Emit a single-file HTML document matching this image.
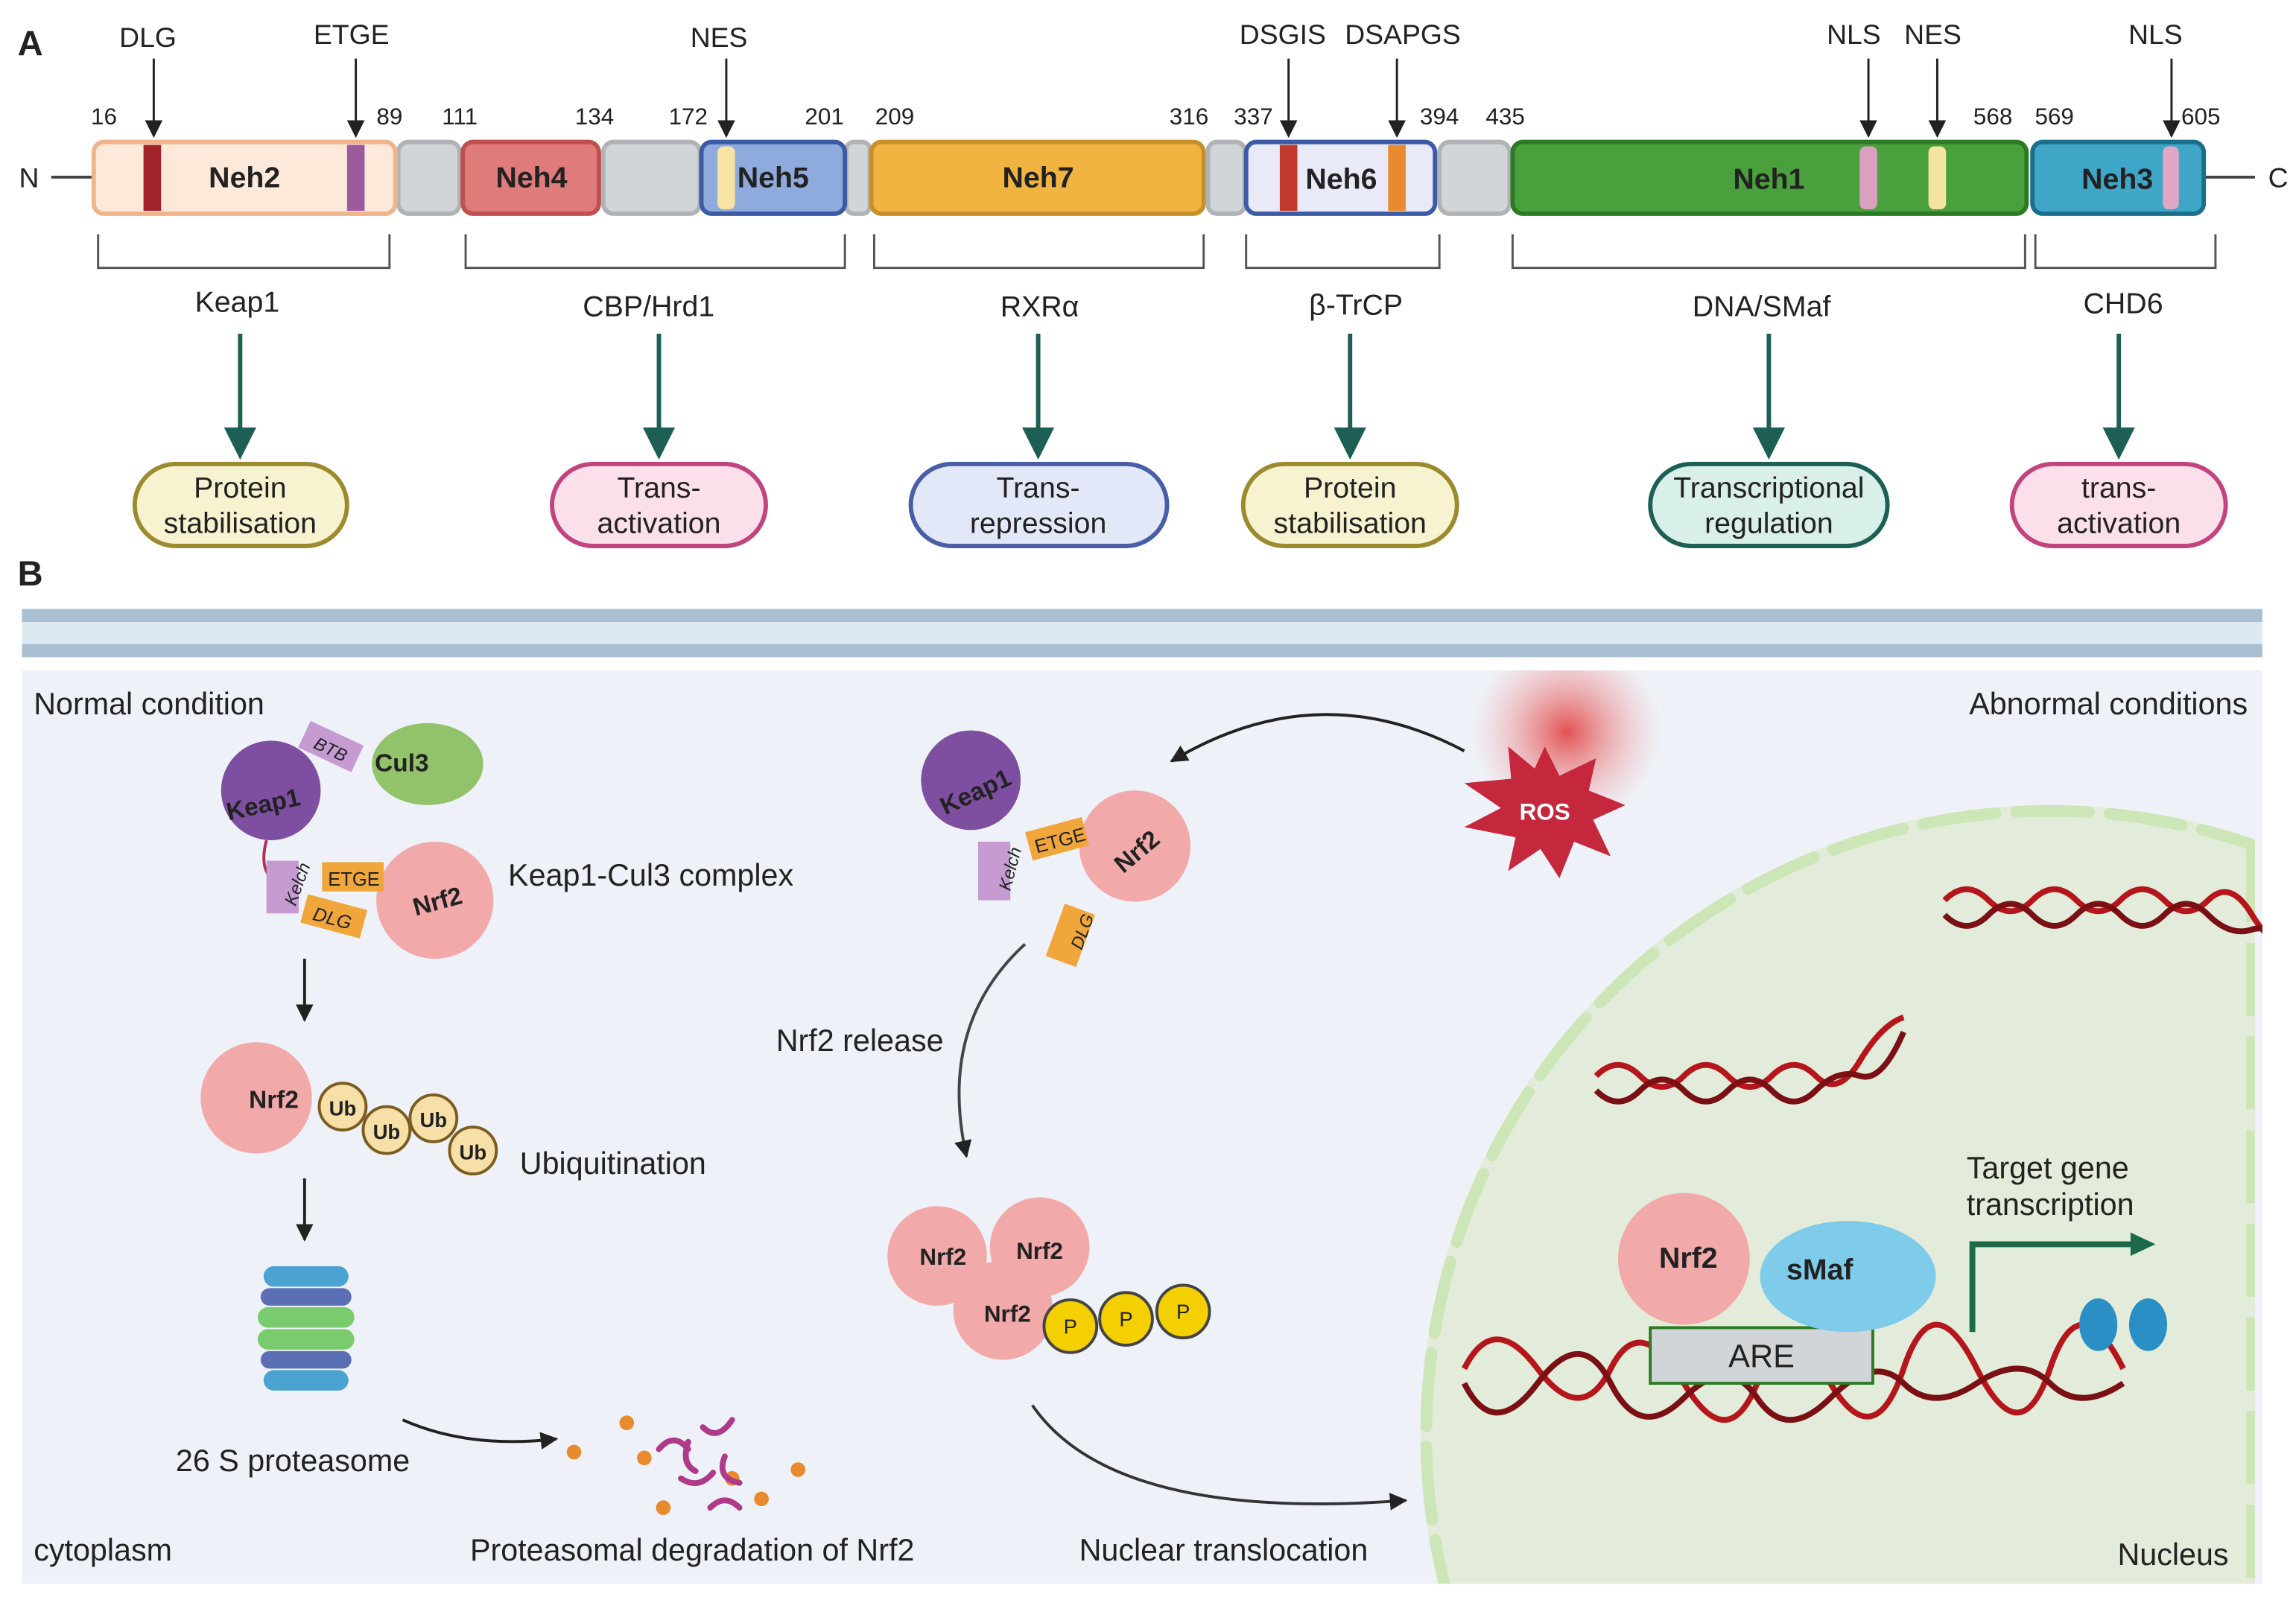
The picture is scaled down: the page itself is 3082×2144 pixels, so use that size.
<!DOCTYPE html>
<html><head><meta charset="utf-8"><style>
html,body{margin:0;padding:0;background:#fff;overflow:hidden;width:3082px;height:2144px}
svg{display:block}
text{font-family:"Liberation Sans",sans-serif;fill:#222}
</style></head><body>
<svg width="3082" height="2144" viewBox="0 0 1568 1091" preserveAspectRatio="none" xmlns="http://www.w3.org/2000/svg">
<defs>
<marker id="ka" viewBox="0 0 10 10" refX="9" refY="5" markerWidth="12" markerHeight="12" markerUnits="userSpaceOnUse" orient="auto"><path d="M0,0 L10,5 L0,10 z" fill="#222"/></marker>
<clipPath id="pc"><rect x="15" y="458" width="1530" height="624"/></clipPath>
<clipPath id="nc"><rect x="15" y="458" width="1525" height="624"/></clipPath>
<radialGradient id="rg"><stop offset="0" stop-color="#e04040" stop-opacity=".9"/><stop offset="1" stop-color="#f4a0a0" stop-opacity="0"/></radialGradient>
</defs>
<!-- Panel A -->
<text x="12" y="38" font-size="24" font-weight="bold">A</text>
<line x1="35" y1="121" x2="63" y2="121" stroke="#444" stroke-width="2"/>
<line x1="1506" y1="121" x2="1540" y2="121" stroke="#444" stroke-width="2"/>
<text x="13" y="128" font-size="19">N</text>
<text x="1549" y="128" font-size="19">C</text>
<g stroke-width="3">
<rect x="272" y="97" width="42" height="49" rx="7" fill="#d2d5d8" stroke="#b0b3b6"/>
<rect x="412" y="97" width="66" height="49" rx="7" fill="#d2d5d8" stroke="#b0b3b6"/>
<rect x="578" y="97" width="16" height="49" rx="5" fill="#d2d5d8" stroke="#b0b3b6"/>
<rect x="825" y="97" width="25" height="49" rx="6" fill="#d2d5d8" stroke="#b0b3b6"/>
<rect x="983" y="97" width="48" height="49" rx="7" fill="#d2d5d8" stroke="#b0b3b6"/>
<rect x="64" y="97" width="206" height="49" rx="7" fill="#fde9d9" stroke="#f0b48a"/>
<rect x="316" y="97" width="93" height="49" rx="7" fill="#e07b7b" stroke="#c0504d"/>
<rect x="479" y="97" width="98" height="49" rx="7" fill="#8faadc" stroke="#3b5ba5"/>
<rect x="595" y="97" width="227" height="49" rx="7" fill="#f2b441" stroke="#c8902a"/>
<rect x="851" y="97" width="129" height="49" rx="7" fill="#e8eaf8" stroke="#3b5ba5"/>
<rect x="1033" y="97" width="351" height="49" rx="7" fill="#4aa03c" stroke="#2d7a24"/>
<rect x="1388" y="97" width="117" height="49" rx="7" fill="#3fa6c8" stroke="#1a6f8a"/>
</g>
<rect x="98" y="99" width="12" height="45" fill="#a0242a"/>
<rect x="237" y="99" width="12" height="45" fill="#9b5a9e"/>
<rect x="490" y="100" width="12" height="43" rx="4" fill="#f7e3a3"/>
<rect x="874" y="99" width="12" height="45" fill="#c0392b"/>
<rect x="948" y="99" width="12" height="45" fill="#ea8a2e"/>
<rect x="1270" y="100" width="12" height="43" rx="4" fill="#d9a0c0"/>
<rect x="1317" y="100" width="12" height="43" rx="4" fill="#f5e3a3"/>
<rect x="1477" y="100" width="11" height="43" rx="4" fill="#e0a6c6"/>
<g font-size="20" font-weight="bold" text-anchor="middle">
<text x="167" y="128">Neh2</text><text x="363" y="128">Neh4</text><text x="528" y="128">Neh5</text>
<text x="709" y="128">Neh7</text><text x="916" y="129">Neh6</text><text x="1208" y="129">Neh1</text><text x="1446" y="129">Neh3</text>
</g>
<g font-size="16" text-anchor="middle">
<text x="71" y="85">16</text><text x="266" y="85">89</text><text x="314" y="85">111</text><text x="406" y="85">134</text>
<text x="470" y="85">172</text><text x="563" y="85">201</text><text x="611" y="85">209</text><text x="812" y="85">316</text>
<text x="856" y="85">337</text><text x="983" y="85">394</text><text x="1028" y="85">435</text><text x="1361" y="85">568</text>
<text x="1403" y="85">569</text><text x="1503" y="85">605</text>
</g>
<g font-size="19" text-anchor="middle">
<text x="101" y="32">DLG</text><text x="240" y="30">ETGE</text><text x="491" y="32">NES</text>
<text x="876" y="30">DSGIS</text><text x="958" y="30">DSAPGS</text><text x="1266" y="30">NLS</text>
<text x="1320" y="30">NES</text><text x="1472" y="30">NLS</text>
</g>
<g stroke="#222" stroke-width="1.5" marker-end="url(#ka)">
<line x1="105" y1="40" x2="105" y2="93"/><line x1="243" y1="40" x2="243" y2="93"/>
<line x1="496" y1="40" x2="496" y2="93"/><line x1="880" y1="40" x2="880" y2="93"/>
<line x1="954" y1="40" x2="954" y2="93"/><line x1="1276" y1="40" x2="1276" y2="93"/>
<line x1="1323" y1="40" x2="1323" y2="93"/><line x1="1483" y1="40" x2="1483" y2="93"/>
</g>
<g fill="none" stroke="#555" stroke-width="1.5">
<path d="M67,160 V183 H266 V160"/><path d="M318,160 V183 H577 V160"/><path d="M597,160 V183 H822 V160"/>
<path d="M851,160 V183 H983 V160"/><path d="M1033,160 V183 H1383 V160"/><path d="M1390,160 V183 H1513 V160"/>
</g>
<g font-size="20" text-anchor="middle">
<text x="162" y="213">Keap1</text><text x="443" y="216">CBP/Hrd1</text><text x="710" y="216">RXRα</text>
<text x="926" y="215">β-TrCP</text><text x="1203" y="216">DNA/SMaf</text><text x="1450" y="214">CHD6</text>
</g>
<g stroke="#1d5e55" stroke-width="3">
<line x1="164" y1="228" x2="164" y2="295"/><line x1="450" y1="228" x2="450" y2="295"/>
<line x1="709" y1="228" x2="709" y2="295"/><line x1="922" y1="228" x2="922" y2="295"/>
<line x1="1208" y1="228" x2="1208" y2="295"/><line x1="1447" y1="228" x2="1447" y2="295"/>
</g>
<g fill="#1d5e55">
<path d="M153,292 h22 l-11,22 z"/><path d="M439,292 h22 l-11,22 z"/><path d="M698,292 h22 l-11,22 z"/>
<path d="M911,292 h22 l-11,22 z"/><path d="M1197,292 h22 l-11,22 z"/><path d="M1436,292 h22 l-11,22 z"/>
</g>
<g stroke-width="3">
<rect x="92" y="317" width="145" height="56" rx="28" fill="#f7f3d0" stroke="#9c8a2e"/>
<rect x="377" y="317" width="146" height="56" rx="28" fill="#fbe0ec" stroke="#c2447f"/>
<rect x="622" y="317" width="175" height="56" rx="28" fill="#e3e8f8" stroke="#4a5ea8"/>
<rect x="849" y="317" width="146" height="56" rx="28" fill="#f7f3d0" stroke="#9c8a2e"/>
<rect x="1127" y="317" width="162" height="56" rx="28" fill="#d8efea" stroke="#1d5e55"/>
<rect x="1374" y="317" width="146" height="56" rx="28" fill="#fbe0ec" stroke="#c2447f"/>
</g>
<g font-size="20" text-anchor="middle">
<text x="164" y="340">Protein</text><text x="164" y="364">stabilisation</text>
<text x="450" y="340">Trans-</text><text x="450" y="364">activation</text>
<text x="709" y="340">Trans-</text><text x="709" y="364">repression</text>
<text x="922" y="340">Protein</text><text x="922" y="364">stabilisation</text>
<text x="1208" y="340">Transcriptional</text><text x="1208" y="364">regulation</text>
<text x="1447" y="340">trans-</text><text x="1447" y="364">activation</text>
</g>
<!-- Panel B -->
<text x="12" y="400" font-size="24" font-weight="bold">B</text>
<rect x="15" y="416" width="1530" height="9" fill="#a9c0d3"/>
<rect x="15" y="425" width="1530" height="15" fill="#dde9f1"/>
<rect x="15" y="440" width="1530" height="9" fill="#a9c0d3"/>
<rect x="15" y="458" width="1530" height="624" fill="#eef2f8"/>
<g clip-path="url(#nc)">
<circle cx="1400" cy="980" r="430" fill="#e3ecda"/>
<circle cx="1400" cy="980" r="426" fill="none" stroke="#cde6b8" stroke-width="8" stroke-dasharray="50 14" stroke-linecap="round"/>
</g>
<line x1="1537" y1="580" x2="1537" y2="1080" stroke="#cde6b8" stroke-width="6" stroke-dasharray="50 14"/>
<g clip-path="url(#pc)">
<circle cx="1070" cy="500" r="65" fill="url(#rg)"/>
<g fill="none" stroke-width="4">
<path d="M1328,615 q15,-15 30,0 t30,0 t30,0 t30,0 t30,0 t30,0 t30,10 t30,20" stroke="#b5161c"/>
<path d="M1328,625 q15,15 30,0 t30,0 t30,0 t30,0 t30,0 t30,0 t30,10 t30,20" stroke="#7a0f14"/>
</g>
</g>
<g font-size="21">
<text x="23" y="488">Normal condition</text>
<text x="1535" y="488" text-anchor="end">Abnormal conditions</text>
<text x="347" y="605">Keap1-Cul3 complex</text>
<text x="355" y="802">Ubiquitination</text>
<text x="120" y="1005">26 S proteasome</text>
<text x="23" y="1066">cytoplasm</text>
<text x="321" y="1066">Proteasomal degradation of Nrf2</text>
<text x="530" y="718">Nrf2 release</text>
<text x="737" y="1066">Nuclear translocation</text>
<text x="1522" y="1069" text-anchor="end">Nucleus</text>
<text x="1343" y="805">Target gene</text><text x="1343" y="830">transcription</text>
</g>
<!-- Keap1-Cul3 complex -->
<circle cx="185" cy="540" r="34" fill="#7e4fa0"/><text x="154" y="555" font-size="17" font-weight="bold" transform="rotate(-12 181 548)">Keap1</text>
<rect x="206" y="500" width="40" height="20" fill="#c59bd2" transform="rotate(25 226 510)"/><text x="215" y="516" font-size="12" font-style="italic" transform="rotate(25 226 510)">BTB</text>
<ellipse cx="292" cy="522" rx="38" ry="28" fill="#92c26a"/><text x="256" y="527" font-size="17" font-weight="bold">Cul3</text>
<path d="M182,574 Q175,600 195,605" fill="none" stroke="#b0305a" stroke-width="2"/>
<rect x="182" y="588" width="22" height="36" fill="#c59bd2"/><text x="198" y="622" font-size="12" font-style="italic" transform="rotate(-70 198 618)">Kelch</text>
<circle cx="297" cy="615" r="40" fill="#f2a9a9"/><text x="282" y="622" font-size="17" font-weight="bold" transform="rotate(-15 297 617)">Nrf2</text>
<rect x="220" y="589" width="42" height="20" fill="#f0a63a"/><text x="224" y="605" font-size="13">ETGE</text>
<rect x="207" y="616" width="42" height="20" fill="#f0a63a" transform="rotate(15 228 626)"/><text x="214" y="632" font-size="13" font-style="italic" transform="rotate(15 228 626)">DLG</text>
<line x1="208" y1="655" x2="208" y2="697" stroke="#222" stroke-width="2" marker-end="url(#ka)"/>
<circle cx="175" cy="750" r="38" fill="#f2a9a9"/><text x="170" y="757" font-size="17" font-weight="bold">Nrf2</text>
<g fill="#f7dfa8" stroke="#7a5c20" stroke-width="2">
<circle cx="234" cy="756" r="16"/><circle cx="264" cy="772" r="16"/><circle cx="296" cy="764" r="16"/><circle cx="323" cy="786" r="16"/>
</g>
<g font-size="14" font-weight="bold" text-anchor="middle"><text x="234" y="762">Ub</text><text x="264" y="778">Ub</text><text x="296" y="770">Ub</text><text x="323" y="792">Ub</text></g>
<line x1="208" y1="805" x2="208" y2="847" stroke="#222" stroke-width="2" marker-end="url(#ka)"/>
<!-- proteasome -->
<rect x="180" y="865" width="58" height="14" rx="7" fill="#4ba3d1"/>
<rect x="178" y="880" width="62" height="12" rx="6" fill="#5a6fb4"/>
<rect x="176" y="893" width="66" height="14" rx="7" fill="#7acb6e"/>
<rect x="176" y="908" width="66" height="14" rx="7" fill="#7acb6e"/>
<rect x="178" y="923" width="62" height="12" rx="6" fill="#5a6fb4"/>
<rect x="180" y="936" width="58" height="14" rx="7" fill="#4ba3d1"/>
<path d="M275,970 Q320,990 380,983" fill="none" stroke="#222" stroke-width="2" marker-end="url(#ka)"/>
<g fill="#ea8a2e"><circle cx="392" cy="992" r="5"/><circle cx="428" cy="972" r="5"/><circle cx="545" cy="1004" r="5"/><circle cx="453" cy="1030" r="5"/><circle cx="500" cy="1010" r="5"/><circle cx="440" cy="996" r="5"/><circle cx="520" cy="1024" r="5"/></g>
<g fill="none" stroke="#b03a8a" stroke-width="4" stroke-linecap="round"><path d="M450,990 q10,-12 20,0"/><path d="M480,975 q10,10 20,-5"/><path d="M465,1010 q12,8 22,-4"/><path d="M495,995 q-6,15 10,18"/><path d="M485,1030 q10,-10 20,0"/><path d="M470,985 q-5,15 5,20"/></g>
<!-- middle -->
<circle cx="663" cy="533" r="34" fill="#7e4fa0"/><text x="640" y="548" font-size="17" font-weight="bold" transform="rotate(-25 663 540)">Keap1</text>
<rect x="668" y="575" width="22" height="40" fill="#c59bd2"/><text x="686" y="612" font-size="12" font-style="italic" transform="rotate(-75 686 608)">Kelch</text>
<circle cx="775" cy="578" r="38" fill="#f2a9a9"/><text x="758" y="588" font-size="17" font-weight="bold" transform="rotate(-40 775 580)">Nrf2</text>
<rect x="702" y="563" width="40" height="20" fill="#f0a63a" transform="rotate(-15 722 573)"/><text x="706" y="579" font-size="13" transform="rotate(-15 722 573)">ETGE</text>
<rect x="720" y="620" width="22" height="38" fill="#f0a63a" transform="rotate(20 731 639)"/><text x="735" y="652" font-size="12" font-style="italic" transform="rotate(-70 735 648)">DLG</text>
<path d="M1000,513 Q900,460 800,520" fill="none" stroke="#222" stroke-width="2" marker-end="url(#ka)"/>
<polygon points="1055,510 1065,530 1090,518 1085,540 1110,550 1088,560 1100,585 1075,575 1065,600 1052,580 1030,595 1035,572 1000,565 1025,552 1000,535 1032,532 1030,510 1048,525" fill="#c5283d"/>
<text x="1055" y="560" font-size="16" font-weight="bold" style="fill:#fff" text-anchor="middle">ROS</text>
<path d="M700,645 Q640,700 660,790" fill="none" stroke="#444" stroke-width="2" marker-end="url(#ka)"/>
<circle cx="640" cy="858" r="34" fill="#f2a9a9"/><circle cx="710" cy="852" r="34" fill="#f2a9a9"/><circle cx="685" cy="895" r="34" fill="#f2a9a9"/>
<g font-size="16" font-weight="bold"><text x="628" y="864">Nrf2</text><text x="694" y="860">Nrf2</text><text x="672" y="903">Nrf2</text></g>
<g fill="#f5d000" stroke="#444" stroke-width="2"><circle cx="731" cy="906" r="18"/><circle cx="769" cy="901" r="18"/><circle cx="808" cy="896" r="18"/></g>
<g font-size="14" text-anchor="middle"><text x="731" y="911">P</text><text x="769" y="906">P</text><text x="808" y="901">P</text></g>
<path d="M705,960 Q760,1040 960,1025" fill="none" stroke="#333" stroke-width="2" marker-end="url(#ka)"/>
<!-- nucleus contents -->
<g fill="none" stroke-width="4">
<path d="M1090,735 q15,-15 30,0 t30,0 t30,0 t30,0 t30,0 t30,-10 t30,-30" stroke="#b5161c"/>
<path d="M1090,745 q15,15 30,0 t30,0 t30,0 t30,0 t30,0 t30,-10 t30,-30" stroke="#7a0f14"/>
<path d="M1000,935 q20,-40 50,0 t50,0 t50,10 t50,0 t50,0 t50,-10 t50,0 t50,0 t50,0" stroke="#b5161c"/>
<path d="M1000,945 q20,40 50,0 t50,0 t50,10 t50,0 t50,0 t50,-10 t50,0 t50,0 t50,0" stroke="#7a0f14"/>
</g>
<rect x="1127" y="907" width="152" height="38" fill="#d2d5d8" stroke="#2d7a24" stroke-width="2"/>
<text x="1203" y="934" font-size="22" text-anchor="middle">ARE</text>
<circle cx="1150" cy="860" r="45" fill="#f2a9a9"/><text x="1133" y="866" font-size="20" font-weight="bold">Nrf2</text>
<ellipse cx="1262" cy="872" rx="60" ry="38" fill="#7ecbea"/><text x="1220" y="874" font-size="20" font-weight="bold">sMaf</text>
<path d="M1347,910 V850 H1460" fill="none" stroke="#1d6a4a" stroke-width="4"/>
<path d="M1455,842 L1472,850 L1455,858 z" fill="#1d6a4a"/>
<ellipse cx="1433" cy="905" rx="13" ry="18" fill="#2a8fc4"/><ellipse cx="1467" cy="905" rx="13" ry="18" fill="#2a8fc4"/>
</svg>
</body></html>
